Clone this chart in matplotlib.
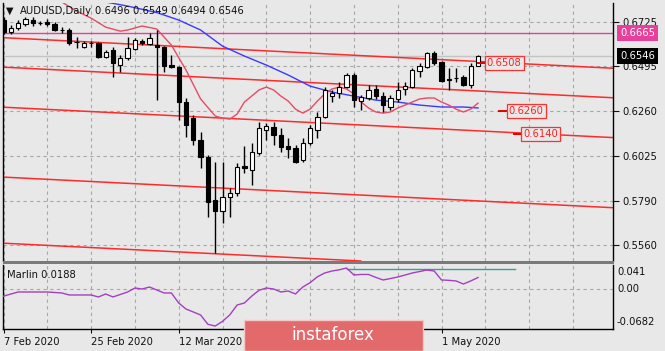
import matplotlib
matplotlib.use('Agg')
import matplotlib.pyplot as plt
from matplotlib.patches import Rectangle, FancyBboxPatch
from matplotlib.transforms import blended_transform_factory

# ---------------- data ----------------
opens = [0.6734,0.6671,0.6692,0.6713,0.6734,0.6720,0.6724,0.6713,0.6684,0.6682,
         0.6621,0.6593,0.6612,0.6614,0.6541,0.6577,0.6499,0.6536,0.6583,0.6624,
         0.6609,0.6603,0.6593,0.6499,0.6489,0.6306,0.6222,0.6108,0.6019,0.5794,
         0.5737,0.5810,0.5831,0.5972,0.5951,0.6040,0.6160,0.6175,0.6134,0.6076,
         0.6066,0.6003,0.6092,0.6160,0.6228,0.6337,0.6353,0.6384,0.6447,0.6311,
         0.6327,0.6374,0.6337,0.6280,0.6322,0.6374,0.6384,0.6468,0.6489,0.6562,
         0.6515,0.6426,0.6433,0.6437,0.6395,0.6496]
highs = [0.6750,0.6708,0.6734,0.6750,0.6750,0.6730,0.6739,0.6723,0.6697,0.6692,
         0.6645,0.6624,0.6624,0.6619,0.6577,0.6593,0.6551,0.6645,0.6640,0.6635,
         0.6666,0.6682,0.6598,0.6551,0.6494,0.6327,0.6238,0.6149,0.6029,0.5993,
         0.5993,0.5857,0.5988,0.6076,0.6092,0.6201,0.6196,0.6201,0.6170,0.6118,
         0.6082,0.6118,0.6186,0.6254,0.6384,0.6369,0.6410,0.6457,0.6457,0.6342,
         0.6395,0.6395,0.6358,0.6342,0.6410,0.6410,0.6484,0.6510,0.6567,0.6572,
         0.6520,0.6484,0.6484,0.6447,0.6510,0.6549]
lows = [0.6661,0.6661,0.6682,0.6703,0.6703,0.6708,0.6703,0.6677,0.6666,0.6603,
        0.6588,0.6588,0.6593,0.6536,0.6536,0.6437,0.6463,0.6525,0.6577,0.6603,
        0.6603,0.6316,0.6463,0.6484,0.6212,0.6123,0.6082,0.5961,0.5706,0.5518,
        0.5674,0.5706,0.5815,0.5935,0.5873,0.6029,0.6108,0.6082,0.6045,0.6014,
        0.5988,0.5993,0.6082,0.6118,0.6222,0.6306,0.6327,0.6379,0.6280,0.6264,
        0.6316,0.6322,0.6254,0.6264,0.6306,0.6342,0.6379,0.6437,0.6484,0.6499,
        0.6410,0.6369,0.6410,0.6389,0.6379,0.6494]
closes = [0.6671,0.6692,0.6718,0.6739,0.6718,0.6716,0.6713,0.6682,0.6680,0.6614,
          0.6617,0.6614,0.6616,0.6541,0.6567,0.6510,0.6536,0.6588,0.6630,0.6614,
          0.6640,0.6593,0.6494,0.6489,0.6306,0.6186,0.6108,0.6019,0.5784,0.5737,
          0.5810,0.5831,0.5967,0.5961,0.6045,0.6170,0.6180,0.6134,0.6071,0.6061,
          0.5993,0.6092,0.6170,0.6228,0.6369,0.6353,0.6384,0.6447,0.6316,0.6332,
          0.6369,0.6337,0.6290,0.6327,0.6369,0.6389,0.6473,0.6494,0.6562,0.6510,
          0.6416,0.6421,0.6429,0.6395,0.6494,0.6546]

fast_bars = [8,10,12,14,16,17,19,21,23,25,27,29,30,31,32,33,34,35,36,37,
             38,39,40,41,42,43,44,45,46,47,48,49,50,51,52,53,54,55,56,57,
             58,59,60,61,62,63,64,65]
fast_vals = [0.6828,0.6781,0.6744,0.6697,0.6676,0.6682,0.6703,0.6687,0.6603,0.6473,
             0.6322,0.6233,0.6222,0.6217,0.6243,0.6306,0.6337,0.6369,0.6384,0.6369,
             0.6337,0.6311,0.6269,0.6248,0.6269,0.6311,0.6348,0.6374,0.6384,0.6374,
             0.6348,0.6306,0.6275,0.6254,0.6248,0.6254,0.6275,0.6290,0.6306,0.6322,
             0.6327,0.6327,0.6306,0.6290,0.6269,0.6254,0.6269,0.6300]

slow_bars = [11,14,17,21,24,27,30,33,36,39,42,45,48,51,54,57,60,63,65]
slow_vals = [0.6840,0.6828,0.6807,0.6773,0.6734,0.6682,0.6598,0.6546,0.6499,0.6447,
             0.6389,0.6358,0.6337,0.6316,0.6306,0.6290,0.6280,0.6280,0.6275]

# channel lines: price at bar 0 and at bar 80
chan_p0 = [0.6642, 0.6488, 0.6279, 0.5914, 0.5569]
chan_p80 = [0.6489, 0.6335, 0.6127, 0.5761, 0.5417]

level_magenta = 0.6665
last_price = 0.6546
marks = [(0.6508, 65.0, 66.2), (0.6260, 67.9, 69.2), (0.6140, 69.9, 71.2)]

price_ticks = [0.6725, 0.6495, 0.6260, 0.6025, 0.5790, 0.5560]

marlin_bars = [0,2,4,6,8,9,12,13,14,15,17,18,19,20,21,22,23,24,25,26,27,28,29,30,31,
               32,33,34,35,36,37,38,39,40,41,42,43,44,45,46,47,48,49,50,51,52,53,54,
               55,56,57,58,59,60,61,62,63,64,65]
marlin_vals = [-0.0130,-0.0059,-0.0059,-0.0059,-0.0076,-0.0110,-0.0110,-0.0144,-0.0093,-0.0144,
               -0.0059,0.0009,-0.0008,0.0026,-0.0025,-0.0076,-0.0076,-0.0247,-0.0350,-0.0400,
               -0.0452,-0.0610,-0.0640,-0.0560,-0.0450,-0.0281,-0.0247,-0.0130,-0.0030,0.0009,
               -0.0008,-0.0059,-0.0042,-0.0093,0.0026,0.0100,0.0200,0.0265,0.0299,0.0320,
               0.0350,0.0231,0.0240,0.0240,0.0190,0.0146,0.0170,0.0197,0.0230,0.0265,
               0.0290,0.0316,0.0299,0.0146,0.0140,0.0129,0.0077,0.0129,0.0188]
marlin_level = 0.0340
marlin_level_span = (47, 70)
marlin_max, marlin_min = 0.041, -0.0682

date_tick_bars = [0, 12, 24, 36, 48, 60]
date_tick_labels = ['7 Feb 2020', '25 Feb 2020', '12 Mar 2020', '', '', '1 May 2020']

# ---------------- layout ----------------
W, H = 665, 351
BG = '#e8e8e8'
plt.rcParams['font.family'] = ['DejaVu Sans']
fig = plt.figure(figsize=(6.65, 3.51), dpi=100)
fig.patch.set_facecolor(BG)

def fx(px): return px / W
def fy(py): return 1 - py / H

L, R = 2.5, 613
ax = fig.add_axes([fx(L), fy(261), fx(R) - fx(L), fy(3) - fy(261)])
ax2 = fig.add_axes([fx(L), fy(328.5), fx(R) - fx(L), fy(264.5) - fy(328.5)])

step = 7.3
xlo = (L - 3.5) / step
xhi = (R - 3.5) / step
for a in (ax, ax2):
    a.set_facecolor(BG)
    a.set_xlim(xlo, xhi)
    a.spines['top'].set_visible(False)
    for s in ('left', 'right', 'bottom'):
        a.spines[s].set_color('black')
        a.spines[s].set_linewidth(1.0)
    for gx in range(0, 84, 6):
        a.axvline(gx, color='#a8a8a8', lw=0.8, ls=(0, (3, 3)), zorder=0)

ax.set_ylim(0.5476, 0.6823)
ax.spines['bottom'].set_visible(False)
ax.set_xticks([])
ax.yaxis.tick_right()
ax.set_yticks(price_ticks)
ax.set_yticklabels([f'{v:.4f}' for v in price_ticks])
ax.tick_params(axis='y', length=4, width=0.8, labelsize=7.2, pad=3, colors='#111111')
for v in price_ticks:
    ax.axhline(v, color='#a8a8a8', lw=0.8, ls=(0, (3, 3)), zorder=0)

# channel lines
for p0, p1 in zip(chan_p0, chan_p80):
    ax.axline((0, p0), (80, p1), color='#ff2a2a', lw=1.1, zorder=2)

ax.axhline(level_magenta, color='#e8409a', lw=1.0, zorder=2)
ax.axhline(last_price, color='#c4c4c4', lw=1.0, zorder=1)

# moving averages
ax.plot(slow_bars, slow_vals, color='#3a3aff', lw=1.0, zorder=3)
ax.plot(fast_bars, fast_vals, color='#e84a66', lw=1.0, zorder=3)

# candles
n = len(opens)
xs = list(range(n))
ax.vlines(xs, lows, highs, color='black', lw=1.0, zorder=4)
for i in xs:
    o, c = opens[i], closes[i]
    bot = min(o, c)
    h = max(abs(c - o), 0.00012)
    fc = 'white' if c > o else 'black'
    ax.add_patch(Rectangle((i - 0.3, bot), 0.6, h, facecolor=fc, edgecolor='black',
                           lw=0.8, zorder=5))

# price level marks with boxed labels
for p, xa, xb in marks:
    ax.plot([xa, xb], [p, p], color='#e00000', lw=1.4, zorder=6)
    ax.text(xb, p, f'{p:.4f}', color='#ff2020', fontsize=7.2, ha='left', va='center',
            zorder=7, bbox=dict(boxstyle='square,pad=0.2', fc=BG, ec='#ff3030', lw=0.9))

# right axis highlighted labels
btr = blended_transform_factory(ax.transAxes, ax.transData)
off = 7 / (R - L)
ax.text(1 + off, level_magenta, f'{level_magenta:.4f}', transform=btr, color='white',
        fontsize=7.2, ha='left', va='center', clip_on=False,
        bbox=dict(boxstyle='square,pad=0.3', fc='#e8409a', ec='none'))
ax.text(1 + off, last_price, f'{last_price:.4f}', transform=btr, color='white',
        fontsize=7.2, ha='left', va='center', clip_on=False,
        bbox=dict(boxstyle='square,pad=0.3', fc='black', ec='none'))

# title
fig.text(fx(5.5), fy(11), '\u25bc', fontsize=7, color='#111111', va='center', ha='left')
fig.text(fx(20), fy(11), 'AUDUSD,Daily', fontsize=7.2, color='#111111', va='center', ha='left')
fig.text(fx(95), fy(11), f'{opens[-1]:.4f} {highs[-1]:.4f} {lows[-1]:.4f} {closes[-1]:.4f}',
         fontsize=7.2, color='#111111', va='center', ha='left')

# ---------------- indicator panel ----------------
ax2.set_ylim(marlin_min, marlin_max)
ax2.axhline(0.0, color='#a8a8a8', lw=0.8, ls=(0, (3, 3)), zorder=0)
ax2.plot(marlin_bars, marlin_vals, color='#a43fc0', lw=1.0, zorder=3)
ax2.plot(list(marlin_level_span), [marlin_level, marlin_level], color='#3a9e9e', lw=1.0, zorder=2)
ax2.yaxis.tick_right()
ax2.set_yticks([])
for lab, yy in [(f'{marlin_max:.3f}', 271.7), ('0.00', 288.5), (f'{marlin_min:.4f}', 321.7)]:
    fig.text(fx(R + 4), fy(yy), lab, fontsize=7.2, color='#111111', ha='left', va='center')
ax2.text(0.007, 0.84, f'Marlin {marlin_vals[-1]:.4f}', transform=ax2.transAxes, fontsize=7.2,
         color='#111111', ha='left', va='center')

ax2.set_xticks(date_tick_bars)
ax2.set_xticklabels(date_tick_labels)
for lbl in ax2.get_xticklabels():
    lbl.set_ha('left')
ax2.tick_params(axis='x', length=3, width=0.8, labelsize=7.2, pad=3, colors='#111111')

# separator between panels
fig.add_artist(Rectangle((fx(L), fy(264)), fx(R + 1) - fx(L), fy(261) - fy(264),
                         transform=fig.transFigure, facecolor='#7a7a7a', edgecolor='none', zorder=5))

# watermark logo
logo = FancyBboxPatch((fx(244), fy(351)), fx(423) - fx(244), fy(320) - fy(351),
                      boxstyle='square,pad=0', transform=fig.transFigure,
                      facecolor='#e36a6a', edgecolor='#f3c8c8', lw=1.0, zorder=10)
fig.add_artist(logo)
fig.text(fx(333), fy(335), 'instaforex', fontsize=12, color='white', ha='center', va='center',
         zorder=11)

fig.savefig('out.png', dpi=100, facecolor=BG)
